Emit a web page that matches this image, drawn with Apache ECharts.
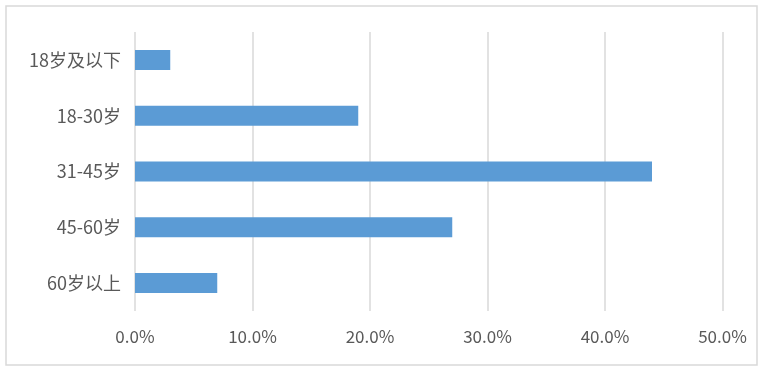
<!DOCTYPE html>
<html><head><meta charset="utf-8">
<script src="https://cdn.jsdelivr.net/npm/echarts@6/dist/echarts.min.js"></script>
<style>html,body{margin:0;padding:0;background:#fff}#c{width:768px;height:371px}</style>
</head><body><div id="c"></div>
<script>
const categories = ['18岁及以下', '18-30岁', '31-45岁', '45-60岁', '60岁以上'];
const values = [3, 19, 44, 27, 7];
const xTicks = [0, 10, 20, 30, 40, 50];

const chart = echarts.init(document.getElementById('c'), null, {renderer: 'canvas'});
const font = '"Noto Sans CJK SC", "Noto Sans", sans-serif';
chart.setOption({
  animation: false,
  backgroundColor: '#fff',
  graphic: [{
    type: 'rect', shape: {x: 6, y: 6, width: 751, height: 359},
    style: {fill: 'none', stroke: '#d9d9d9', lineWidth: 1.5}, silent: true
  }],
  grid: {left: 135, right: 45.5, top: 32, bottom: 60, containLabel: false},
  xAxis: {
    type: 'value', min: xTicks[0], max: xTicks[xTicks.length - 1], interval: 10,
    axisLine: {show: false}, axisTick: {show: false},
    splitLine: {lineStyle: {color: '#d9d9d9', width: 1.5}},
    axisLabel: {color: '#595959', fontSize: 17, fontFamily: font, margin: 17,
      formatter: v => v.toFixed(1) + '%'}
  },
  yAxis: {
    type: 'category', data: categories, inverse: true,
    axisLine: {show: false}, axisTick: {show: false},
    axisLabel: {color: '#595959', fontSize: 18, fontFamily: font, margin: 14}
  },
  series: [{
    type: 'bar', data: values, barWidth: 20,
    itemStyle: {color: '#5b9bd5'}
  }]
});
</script></body></html>
